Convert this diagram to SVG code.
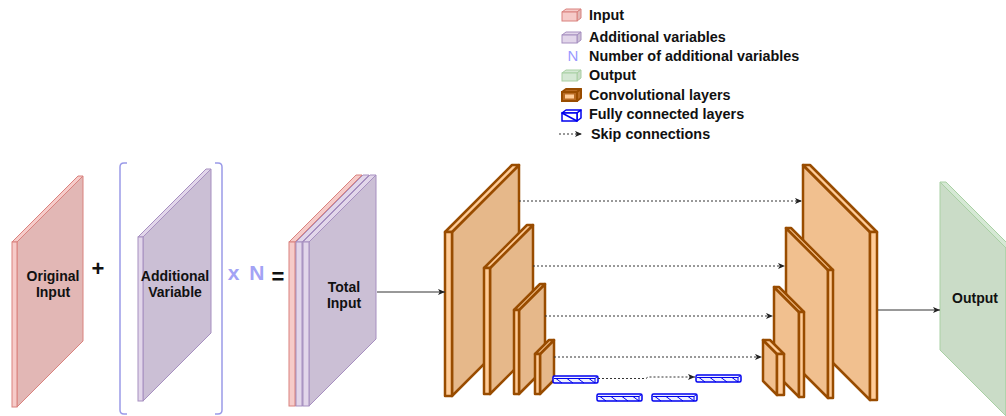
<svg xmlns="http://www.w3.org/2000/svg" xmlns:xlink="http://www.w3.org/1999/xlink" width="1006" height="416" viewBox="0 0 1006 416">
<defs>
<marker id="arr" viewBox="0 0 8 8" refX="8" refY="4" markerWidth="7" markerHeight="7" markerUnits="userSpaceOnUse" orient="auto"><path d="M0,0.5 L8,4 L0,7.5 L2,4 z" fill="#222"/></marker>
<g id="fcshape">
<rect x="0" y="0" width="45" height="7" rx="1.5" class="fc"/>
<path d="M1,2.5 H42 L44.5,0.5 M42,2.5 V7 M3,2.5 L9,7 M14,2.5 L20,7 M25,2.5 L31,7 M36,2.5 L42,7" class="fcl"/>
</g>
</defs>
<style>
text{font-family:"Liberation Sans",Arial,sans-serif;font-weight:bold;fill:#111}
.lbl{font-size:14px}
.leg{font-size:14.4px}
.mid{text-anchor:middle}
.rs{fill:#f6cbc9;stroke:#d9827e;stroke-width:1}
.rf{fill:#e2b7b5;stroke:#d9827e;stroke-width:1}
.ps{fill:#e2d6ea;stroke:#a68fc0;stroke-width:1}
.pf{fill:#cbbfd5;stroke:#a68fc0;stroke-width:1}
.gs{fill:#d5e8d4;stroke:#a9d0a4;stroke-width:1}
.gf{fill:#cadcc7;stroke:#a9d0a4;stroke-width:1}
.os{fill:#ffcc99;stroke:#994c00;stroke-width:2.5;stroke-linejoin:round}
.ef{fill:#e6b88a;stroke:#994c00;stroke-width:2.5;stroke-linejoin:round}
.df{fill:#f1c08f;stroke:#994c00;stroke-width:2.5;stroke-linejoin:round}
.fc{fill:#eef0ff;stroke:#0000ee;stroke-width:1.5}
.fcl{stroke:#0000ee;stroke-width:1;fill:none}
.skip{stroke:#333;stroke-width:1;stroke-dasharray:2 2;fill:none;marker-end:url(#arr)}
.solid{stroke:#333;stroke-width:1;fill:none;marker-end:url(#arr)}
.brk{stroke:#9a9ae8;stroke-width:1.5;fill:none}
</style>

<g id="legend">
<g id="leg-input">
<polygon class="rs" points="562,12 566,9 581,9 577,12"/><polygon class="rf" points="577,12 581,9 581,18 577,21"/><rect class="rs" x="562" y="12" width="15" height="9"/>
<text class="leg" x="589" y="19.5">Input</text>
</g>
<g id="leg-add">
<polygon class="ps" points="562,35 566,32 581,32 577,35"/><polygon class="pf" points="577,35 581,32 581,40 577,43"/><rect class="ps" x="562" y="35" width="15" height="8"/>
<text class="leg" x="589" y="41.5">Additional variables</text>
</g>
<g id="leg-n">
<text x="573" y="61" class="mid" style="font-size:15px;font-weight:normal;fill:#9999ff">N</text>
<text class="leg" x="589" y="61">Number of additional variables</text>
</g>
<g id="leg-output">
<polygon class="gs" points="562,73 566,70 581,70 577,73"/><polygon class="gf" points="577,73 581,70 581,78 577,81"/><rect class="gs" x="562" y="73" width="15" height="8"/>
<text class="leg" x="589" y="80">Output</text>
</g>
<g id="leg-conv">
<polygon points="562,92 566,89 581,89 577,92" fill="#b86a22" stroke="#994c00" stroke-width="2" stroke-linejoin="round"/>
<polygon points="577,92 581,89 581,98 577,101" fill="#b86a22" stroke="#994c00" stroke-width="2" stroke-linejoin="round"/>
<rect x="562" y="92" width="15" height="9" fill="#b86a22" stroke="#994c00" stroke-width="2"/>
<rect x="565" y="94.5" width="9" height="4" fill="#ffcc99"/>
<text class="leg" x="589" y="99.5">Convolutional layers</text>
</g>
<g id="leg-fc">
<polygon points="562,113 566,110 581,110 577,113" fill="#fff" stroke="#0000ee" stroke-width="1.5" stroke-linejoin="round"/>
<polygon points="577,113 581,110 581,118 577,121" fill="#fff" stroke="#0000ee" stroke-width="1.5" stroke-linejoin="round"/>
<rect x="562" y="113" width="15" height="8" fill="#fff" stroke="#0000ee" stroke-width="1.5"/>
<path d="M562,113 L577,121" stroke="#0000ee" stroke-width="1.5"/>
<text class="leg" x="589" y="118.5">Fully connected layers</text>
</g>
<g id="leg-skip">
<path class="skip" d="M559,134 H582"/>
<text class="leg" x="591" y="138.5">Skip connections</text>
</g>
</g>

<g id="original-input">
<polygon class="rf" points="17,242 83,176 83,341 17,407"/>
<polygon class="rs" points="12,242 78,176 83,176 17,242"/>
<rect class="rs" x="12" y="242" width="5" height="165"/>
<text class="lbl mid" x="53" y="281">Original</text>
<text class="lbl mid" x="53" y="297">Input</text>
</g>

<g id="plus"><text class="mid" x="98" y="276" style="font-size:22px">+</text></g>

<g id="bracket">
<path class="brk" d="M127,163 H124 Q120,163 120,167 V410 Q120,414 124,414 H127"/>
<path class="brk" d="M215,163 H218 Q222,163 222,167 V410 Q222,414 218,414 H215"/>
</g>

<g id="additional-variable">
<polygon class="pf" points="143,237 211,169 211,333 143,401"/>
<polygon class="ps" points="138,237 206,169 211,169 143,237"/>
<rect class="ps" x="138" y="237" width="5" height="164"/>
<text class="lbl mid" x="175" y="281">Additional</text>
<text class="lbl mid" x="175" y="297">Variable</text>
</g>

<g id="times-n"><text x="246" y="280" class="mid" style="font-size:21px;fill:#a3a3f5" word-spacing="4">x N</text></g>
<g id="equals"><text x="278" y="284" class="mid" style="font-size:22px">=</text></g>

<g id="total-input">
<polygon class="rf" points="295,242 362,175 362,339 295,406"/>
<polygon class="rs" points="289,242 356,175 362,175 295,242"/>
<rect class="rs" x="289" y="242" width="6" height="164"/>
<polygon class="pf" points="302,242 369,175 369,339 302,406"/>
<polygon class="ps" points="296,242 363,175 369,175 302,242"/>
<rect class="ps" x="296" y="242" width="6" height="164"/>
<polygon class="pf" points="309,242 376,175 376,339 309,406"/>
<polygon class="ps" points="303,242 370,175 376,175 309,242"/>
<rect class="ps" x="303" y="242" width="6" height="164"/>
<text class="lbl mid" x="344" y="292">Total</text>
<text class="lbl mid" x="344" y="308">Input</text>
</g>

<g id="enc1">
<polygon class="ef" points="452,232 519,165 519,329 452,396"/>
<polygon class="os" points="445,232 512,165 519,165 452,232"/>
<rect class="os" x="445" y="232" width="7" height="164"/>
</g>
<g id="enc2">
<polygon class="ef" points="490,268 533,225 533,351 490,394"/>
<polygon class="os" points="484,268 527,225 533,225 490,268"/>
<rect class="os" x="484" y="268" width="6" height="126"/>
</g>
<g id="enc3">
<polygon class="ef" points="519,310 545,284 545,368 519,394"/>
<polygon class="os" points="514,310 540,284 545,284 519,310"/>
<rect class="os" x="514" y="310" width="5" height="84"/>
</g>
<g id="enc4">
<polygon class="ef" points="540,354 554,340 554,380 540,394"/>
<polygon class="os" points="535,354 549,340 554,340 540,354"/>
<rect class="os" x="535" y="354" width="5" height="40"/>
</g>

<g id="dec1">
<polygon class="df" points="870,232 803,165 803,333 870,400"/>
<polygon class="os" points="870,232 803,165 810,165 877,232"/>
<rect class="os" x="870" y="232" width="7" height="168"/>
</g>
<g id="dec2">
<polygon class="df" points="828,270 786,228 786,356 828,398"/>
<polygon class="os" points="828,270 786,228 791,228 833,270"/>
<rect class="os" x="828" y="270" width="5" height="128"/>
</g>
<g id="dec3">
<polygon class="df" points="799,312 774,287 774,372 799,397"/>
<polygon class="os" points="799,312 774,287 779,287 804,312"/>
<rect class="os" x="799" y="312" width="5" height="85"/>
</g>
<g id="dec4">
<polygon class="df" points="777,354 763,340 763,381 777,395"/>
<polygon class="os" points="777,354 763,340 770,340 784,354"/>
<rect class="os" x="777" y="354" width="7" height="41"/>
</g>

<g id="fc1"><use xlink:href="#fcshape" href="#fcshape" x="553" y="376"/></g>
<g id="fc2"><use xlink:href="#fcshape" href="#fcshape" x="597" y="394"/></g>
<g id="fc3"><use xlink:href="#fcshape" href="#fcshape" x="652" y="394"/></g>
<g id="fc4"><use xlink:href="#fcshape" href="#fcshape" x="696" y="375"/></g>

<g id="output">
<polygon class="gf" points="1006,248 940,182 940,350 1006,416"/>
<polygon class="gs" points="1006,248 940,182 946,182 1012,248"/>
<rect class="gs" x="1006" y="248" width="6" height="168"/>
<text class="lbl mid" x="975" y="303">Output</text>
</g>

<g id="connectors">
<path class="solid" d="M377,292 H445"/>
<path class="solid" d="M878,310 H940"/>
<path class="skip" d="M519,201 H802"/>
<path class="skip" d="M533,266 H785"/>
<path class="skip" d="M545,316 H773"/>
<path class="skip" d="M554,357 H762"/>
<path class="skip" d="M598,378.5 H646 L648,377 H695"/>
</g>
</svg>
